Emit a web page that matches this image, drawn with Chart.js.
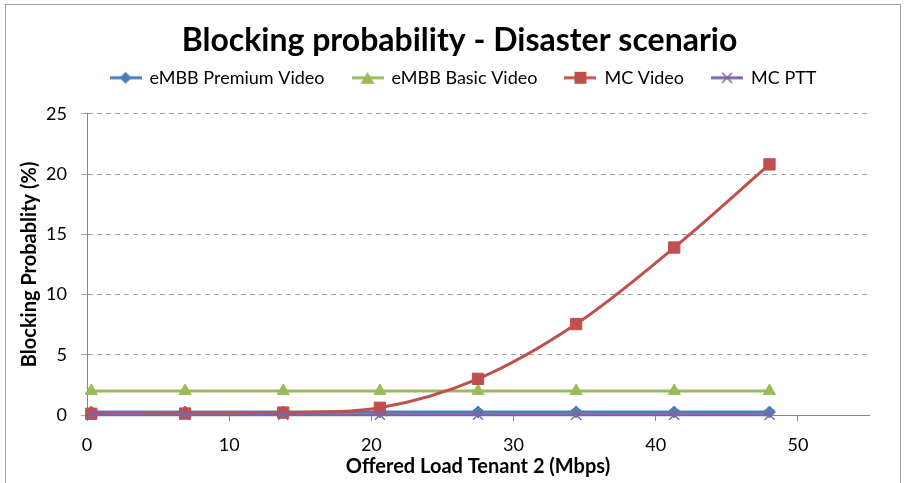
<!DOCTYPE html>
<html>
<head>
    <title>Blocking probability - Disaster scenario</title>
    <script src="https://cdn.jsdelivr.net/npm/chart.js"></script>
    <style>
        body { margin: 0; background: #fff; }
        #wrap { position: relative; width: 904px; height: 483px; }
    </style>
</head>
<body>
    <div id="wrap"><canvas id="blockChart" width="904" height="483"></canvas></div>

    <script>
        // offered load (Mbps) and blocking probability (%)
        const loads = [0.3, 6.9, 13.8, 20.6, 27.5, 34.4, 41.3, 48.0];
        const premiumVideo = [0.25, 0.25, 0.25, 0.25, 0.25, 0.25, 0.25, 0.25];
        const basicVideo = [2.0, 2.0, 2.0, 2.0, 2.0, 2.0, 2.0, 2.0];
        const mcVideo = [0.1, 0.12, 0.2, 0.6, 3.0, 7.55, 13.9, 20.8];
        const mcPtt = [0.02, 0.02, 0.02, 0.02, 0.02, 0.02, 0.02, 0.02];
        const xTicks = [0, 10, 20, 30, 40, 50];
        const yTicks = [0, 5, 10, 15, 20, 25];

        const FONT = 'Lato, "Open Sans", sans-serif';
        const colors = ['#4a7ebb', '#9bbb59', '#c0504d', '#8064a2'];
        const styles = ['rectRot', 'triangle', 'rect', 'crossRot'];

        function toPoints(ys) {
            return ys.map((y, i) => ({ x: loads[i], y: y }));
        }

        // line + marker icons for the legend, like the Excel one
        function legendIcon(color, style) {
            const c = document.createElement('canvas');
            c.width = 32; c.height = 16;
            const g = c.getContext('2d');
            g.strokeStyle = color; g.fillStyle = color; g.lineWidth = 3;
            g.beginPath(); g.moveTo(0, 8); g.lineTo(32, 8); g.stroke();
            g.beginPath();
            if (style === 'rectRot') {
                g.moveTo(16, 2); g.lineTo(22, 8); g.lineTo(16, 14); g.lineTo(10, 8); g.closePath(); g.fill();
            } else if (style === 'triangle') {
                g.moveTo(16, 2); g.lineTo(23, 14); g.lineTo(9, 14); g.closePath(); g.fill();
            } else if (style === 'rect') {
                g.fillRect(10, 2, 12, 12);
            } else {
                g.lineWidth = 1.5;
                g.moveTo(11, 3); g.lineTo(21, 13); g.moveTo(21, 3); g.lineTo(11, 13); g.stroke();
            }
            return c;
        }
        const icons = colors.map((c, i) => legendIcon(c, styles[i]));

        // thin grey frame around the whole chart
        const frame = {
            id: 'frame',
            afterDraw(chart) {
                const ctx = chart.ctx;
                ctx.save();
                ctx.strokeStyle = '#a0a0a0';
                ctx.lineWidth = 1;
                ctx.strokeRect(5.5, 4.5, 895, 500);
                ctx.restore();
            }
        };

        // give the legend row more room below it and nudge title + legend right
        const legendSpace = {
            id: 'legendSpace',
            afterInit(chart) {
                const lg = chart.legend;
                const fit = lg.fit;
                lg.fit = function () {
                    fit.call(this);
                    this.height = 73;
                };
            },
            afterLayout(chart) {
                chart.legend.left += 22;
                chart.legend.right += 22;
                chart.titleBlock.left += 18;
                chart.titleBlock.right += 18;
            }
        };

        Chart.defaults.font.family = FONT;
        Chart.defaults.color = '#000';

        const defaultLabels = Chart.defaults.plugins.legend.labels.generateLabels;

        new Chart(document.getElementById('blockChart'), {
            type: 'line',
            data: {
                datasets: [
                    {
                        label: 'eMBB Premium Video',
                        data: toPoints(premiumVideo),
                        borderColor: colors[0], backgroundColor: colors[0],
                        pointStyle: 'rectRot', pointRadius: 6, order: 3
                    },
                    {
                        label: 'eMBB Basic Video',
                        data: toPoints(basicVideo),
                        borderColor: colors[1], backgroundColor: colors[1],
                        pointStyle: 'triangle', pointRadius: 7, order: 2
                    },
                    {
                        label: 'MC Video',
                        data: toPoints(mcVideo),
                        borderColor: colors[2], backgroundColor: colors[2],
                        pointStyle: 'rect', pointRadius: 8, order: 1
                    },
                    {
                        label: 'MC PTT',
                        data: toPoints(mcPtt),
                        borderColor: colors[3], backgroundColor: colors[3],
                        pointStyle: 'crossRot', pointRadius: 7, pointBorderWidth: 1.5, order: 0
                    }
                ]
            },
            options: {
                responsive: false,
                animation: false,
                devicePixelRatio: 1,
                clip: false,
                layout: { padding: { left: 14, right: 35, top: 0, bottom: 0 } },
                elements: {
                    line: { borderWidth: 3, tension: 0.35 },
                    point: { borderWidth: 1, hoverRadius: 7 }
                },
                plugins: {
                    title: {
                        display: true,
                        text: 'Blocking probability - Disaster scenario',
                        font: { size: 32, weight: 'bold' },
                        padding: { top: 21, bottom: -18.6 }
                    },
                    legend: {
                        labels: {
                            usePointStyle: true,
                            pointStyleWidth: 30,
                            font: { size: 18 },
                            padding: 28,
                            sort: (a, b) => a.datasetIndex - b.datasetIndex,
                            generateLabels: chart => defaultLabels(chart).map(item =>
                                Object.assign(item, { pointStyle: icons[item.datasetIndex] }))
                        }
                    },
                    tooltip: { enabled: false }
                },
                scales: {
                    x: {
                        type: 'linear',
                        min: 0, max: 55,
                        afterBuildTicks: s => { s.ticks = xTicks.map(v => ({ value: v })); },
                        afterFit: s => { s.height = 68; },
                        ticks: { font: { size: 18 }, padding: 13 },
                        grid: { drawOnChartArea: false, drawTicks: true, tickLength: 6, color: '#868686' },
                        border: { display: true, color: '#868686', width: 1 },
                        title: {
                            display: true,
                            text: 'Offered Load Tenant 2 (Mbps)',
                            font: { size: 20, weight: 'bold' },
                            padding: { top: 0, bottom: 4 }
                        }
                    },
                    y: {
                        min: 0, max: 25,
                        afterBuildTicks: s => { s.ticks = yTicks.map(v => ({ value: v })); },
                        afterFit: s => { s.width = 73; },
                        ticks: { font: { size: 18 }, padding: 14 },
                        grid: { color: '#a6a6a6', tickLength: 6, lineWidth: 1 },
                        border: { display: true, color: '#868686', dash: [5, 4] },
                        title: {
                            display: true,
                            text: 'Blocking Probablity (%)',
                            font: { size: 20, weight: 'bold' },
                            padding: { top: 4, bottom: 4 }
                        }
                    }
                }
            },
            plugins: [frame, legendSpace]
        });
    </script>
</body>
</html>
